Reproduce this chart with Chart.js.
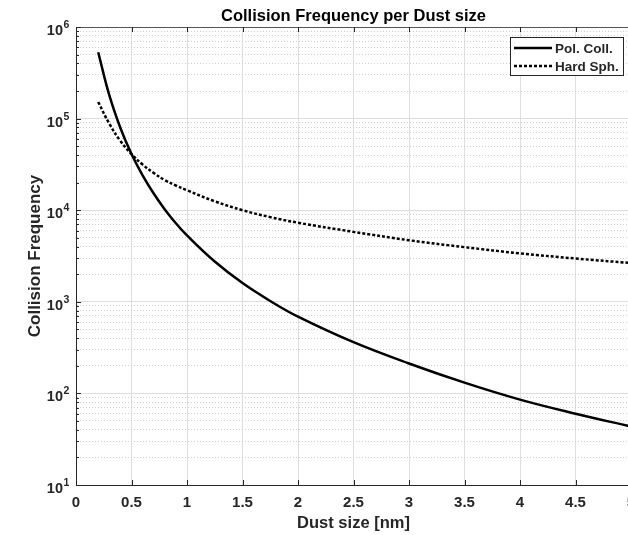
<!DOCTYPE html>
<html>
<head>
<meta charset="utf-8">
<script src="https://cdn.jsdelivr.net/npm/chart.js@4.4.0/dist/chart.umd.min.js"></script>
<style>
  html, body { margin: 0; padding: 0; background: #fff; overflow: hidden; }
  #wrap { width: 636px; height: 535px; }
</style>
</head>
<body>
<div id="wrap"><canvas id="grafico"></canvas></div>
<script>
// --- Dados ---
const tamanhos = [0.2, 0.3, 0.4, 0.5, 0.6, 0.7, 0.8, 0.9, 1, 1.25, 1.5, 1.75, 2, 2.5, 3, 3.5, 4, 4.5, 5];
const polColl = [5.3e5, 1.8e5, 7.9e4, 4.1e4, 2.4e4, 1.52e4, 1.02e4, 7.2e3, 5.3e3, 2.75e3, 1.6e3, 1.02e3, 688, 362, 212, 131, 85.5, 60, 43.5];
const hardSph = [1.52e5, 8.8e4, 5.7e4, 4.1e4, 3.15e4, 2.55e4, 2.13e4, 1.86e4, 1.65e4, 1.25e4, 1.0e4, 8.4e3, 7.3e3, 5.8e3, 4.7e3, 3.95e3, 3.38e3, 2.97e3, 2.65e3];
const rotulos = ['Pol. Coll.', 'Hard Sph.'];
const decadas = [1e1, 1e2, 1e3, 1e4, 1e5, 1e6];

const fonte = "'Liberation Sans', Arial, Helvetica, sans-serif";
const corEixo = '#262626';

// ticks do eixo y: décadas + subdivisões 2..9
const ticksY = [];
decadas.forEach((d, i) => {
    ticksY.push(d);
    if (i < decadas.length - 1) {
        for (let m = 2; m <= 9; m++) ticksY.push(d * m);
    }
});
const ehDecada = v => decadas.some(d => Math.abs(v - d) < d * 1e-6);

// --- Plugins ---
const tituloPlugin = {
    id: 'tituloMatlab',
    afterDraw(chart) {
        const { ctx, chartArea } = chart;
        ctx.save();
        ctx.font = "bold 16.5px " + fonte;
        ctx.fillStyle = '#000';
        ctx.textAlign = 'center';
        ctx.textBaseline = 'alphabetic';
        ctx.fillText('Collision Frequency per Dust size', (chartArea.left + chartArea.right) / 2, 20.5);
        ctx.restore();
    }
};

// rótulos 10^n com expoente e marcas internas dos eixos
const eixosPlugin = {
    id: 'eixosMatlab',
    afterDraw(chart) {
        const { ctx, chartArea } = chart;
        const sy = chart.scales.y;
        const sx = chart.scales.x;
        ctx.save();
        ctx.fillStyle = corEixo;
        decadas.forEach(d => {
            const py = sy.getPixelForValue(d);
            const e = String(Math.round(Math.log10(d)));
            ctx.font = "bold 14.5px " + fonte;
            ctx.textAlign = 'right';
            ctx.textBaseline = 'alphabetic';
            ctx.fillText('10', 63, py + 8);
            ctx.font = "bold 10.5px " + fonte;
            ctx.textAlign = 'left';
            ctx.fillText(e, 63.5, py + 1);
        });

        ctx.strokeStyle = corEixo;
        ctx.lineWidth = 1;
        ctx.beginPath();
        sy.ticks.forEach(t => {
            const py = Math.round(sy.getPixelForValue(t.value)) + 0.5;
            const len = ehDecada(t.value) ? 5 : 3;
            ctx.moveTo(chartArea.left, py);
            ctx.lineTo(chartArea.left + len, py);
        });
        sx.ticks.forEach(t => {
            const px = Math.round(sx.getPixelForValue(t.value)) + 0.5;
            ctx.moveTo(px, chartArea.bottom);
            ctx.lineTo(px, chartArea.bottom - 5);
            ctx.moveTo(px, chartArea.top);
            ctx.lineTo(px, chartArea.top + 5);
        });
        ctx.stroke();
        ctx.restore();
    }
};

const legendaPlugin = {
    id: 'legendaMatlab',
    afterDraw(chart) {
        const { ctx } = chart;
        const x0 = 510, y0 = 37, w = 113, h = 38;
        ctx.save();
        ctx.fillStyle = '#fff';
        ctx.fillRect(x0, y0, w, h);
        ctx.strokeStyle = corEixo;
        ctx.lineWidth = 1;
        ctx.strokeRect(x0 + 0.5, y0 + 0.5, w, h);
        ctx.font = "bold 13.5px " + fonte;
        ctx.textBaseline = 'middle';
        chart.data.datasets.forEach((ds, i) => {
            const y = y0 + 11 + i * 18;
            ctx.beginPath();
            ctx.setLineDash(ds.borderDash || []);
            ctx.lineWidth = ds.borderWidth;
            ctx.strokeStyle = ds.borderColor;
            ctx.moveTo(x0 + 4, y);
            ctx.lineTo(x0 + 42, y);
            ctx.stroke();
            ctx.setLineDash([]);
            ctx.fillStyle = corEixo;
            ctx.fillText(ds.label, x0 + 45, y + 1);
        });
        ctx.restore();
    }
};

const ctx = document.getElementById('grafico').getContext('2d');
new Chart(ctx, {
    type: 'line',
    data: {
        datasets: [
            {
                label: rotulos[0],
                data: tamanhos.map((x, i) => ({ x, y: polColl[i] })),
                borderColor: '#000',
                borderWidth: 2.5,
                pointRadius: 0,
                tension: 0.4
            },
            {
                label: rotulos[1],
                data: tamanhos.map((x, i) => ({ x, y: hardSph[i] })),
                borderColor: '#000',
                borderWidth: 2.5,
                borderDash: [3, 2],
                pointRadius: 0,
                tension: 0.4
            }
        ]
    },
    options: {
        responsive: true,
        maintainAspectRatio: false,
        animation: false,
        layout: { padding: { top: 27, right: 5, left: 0, bottom: 0 } },
        plugins: {
            legend: { display: false },
            tooltip: { enabled: false }
        },
        scales: {
            x: {
                type: 'linear',
                min: 0,
                max: 5,
                afterFit: s => {
                    s.height = 50;
                    s.paddingLeft = 0;
                    s.paddingRight = 0;
                },
                ticks: {
                    stepSize: 0.5,
                    padding: 9,
                    color: corEixo,
                    font: { family: fonte, size: 15, weight: 'bold' },
                    maxRotation: 0,
                    autoSkip: false,
                    callback: v => String(Math.round(v * 10) / 10)
                },
                grid: { color: '#dedede', lineWidth: 1, drawTicks: false },
                border: { color: corEixo, width: 1 },
                title: {
                    display: true,
                    text: 'Dust size [nm]',
                    color: corEixo,
                    font: { family: fonte, size: 16.5, weight: 'bold' },
                    padding: { top: 0, bottom: 2 }
                }
            },
            y: {
                type: 'logarithmic',
                min: 10,
                max: 1e6,
                afterFit: s => {
                    s.width = 76;
                    s.paddingTop = 0;
                    s.paddingBottom = 0;
                },
                afterBuildTicks: s => {
                    s.ticks = ticksY.map(v => ({ value: v, major: ehDecada(v) }));
                },
                ticks: { display: false, autoSkip: false },
                grid: {
                    drawTicks: false,
                    lineWidth: 1,
                    color: c => {
                        if (!c.tick) return '#dedede';
                        if (Math.abs(c.tick.value - 1e6) < 1) return '#555';
                        return ehDecada(c.tick.value) ? '#dedede' : '#cfcfcf';
                    }
                },
                border: {
                    color: corEixo,
                    width: 1,
                    dash: c => (c.tick && !ehDecada(c.tick.value)) ? [1, 2] : []
                },
                title: {
                    display: true,
                    text: 'Collision Frequency',
                    color: corEixo,
                    font: { family: fonte, size: 17, weight: 'bold' },
                    padding: { top: 25, bottom: 0 }
                }
            }
        }
    },
    plugins: [tituloPlugin, eixosPlugin, legendaPlugin]
});
</script>
</body>
</html>
